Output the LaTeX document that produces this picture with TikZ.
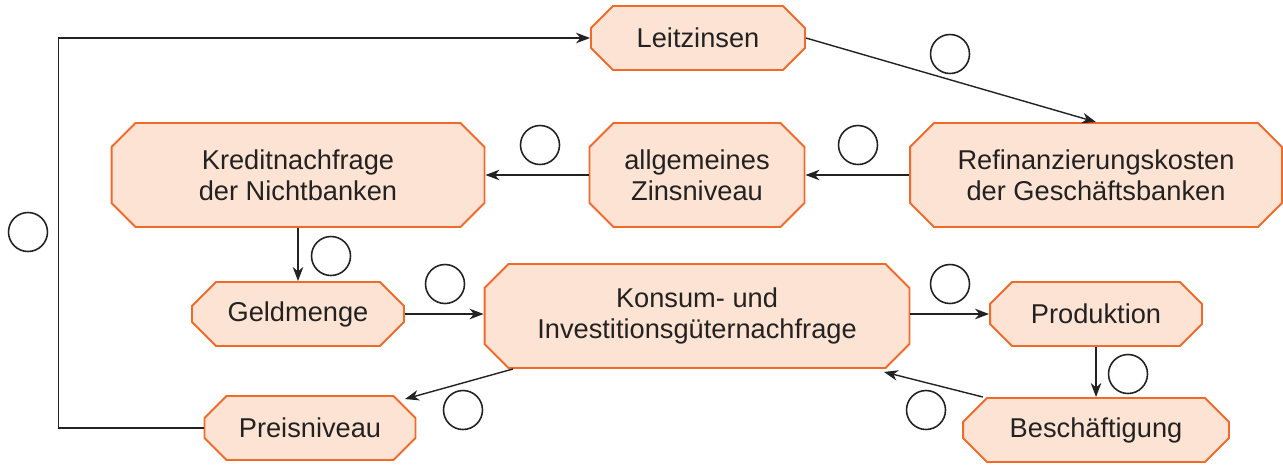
\documentclass[tikz,border=0pt]{standalone}
\usepackage{fontspec}
\setmainfont{Liberation Sans}
\usetikzlibrary{shapes.misc,arrows.meta}

\definecolor{boxfill}{HTML}{FDE3D3}
\definecolor{boxline}{HTML}{F26A2A}
\definecolor{txt}{HTML}{222222}

\tikzset{
  box/.style={chamfered rectangle, chamfered rectangle xsep=0.24cm,
    chamfered rectangle ysep=0.24cm, draw=boxline, fill=boxfill,
    line width=1.1pt, inner sep=0pt, align=center, text=txt,
    font=\fontsize{15.5}{17.6}\selectfont},
  arr/.style={-{Stealth[length=8pt,width=6pt,inset=2.5pt]}, line width=0.8pt, draw=txt},
  blank/.style={circle, draw=txt, line width=0.9pt, minimum size=0.78cm, inner sep=0pt}
}

\begin{document}
\begin{tikzpicture}[x=0.02cm,y=-0.02cm]
      \useasboundingbox (0,0) rectangle (1283,464);
      \node[box, minimum width=4.28cm, minimum height=1.28cm] (leit) at (698,38) {Leitzinsen};
      \node[box, minimum width=7.46cm, minimum height=2.08cm] (kredit) at (298,175) {Kreditnachfrage\\der Nichtbanken};
      \node[box, minimum width=4.30cm, minimum height=2.08cm] (zins) at (697,175) {allgemeines\\Zinsniveau};
      \node[box, minimum width=7.44cm, minimum height=2.08cm] (refi) at (1096,175) {Refinanzierungskosten\\der Geschäftsbanken};
      \node[box, minimum width=4.24cm, minimum height=1.28cm] (geld) at (298,314) {Geldmenge};
      \node[box, minimum width=8.50cm, minimum height=2.08cm] (konsum) at (697,316) {Konsum- und\\Investitionsgüternachfrage};
      \node[box, minimum width=4.24cm, minimum height=1.28cm] (prod) at (1096,314) {Produktion};
      \node[box, minimum width=4.22cm, minimum height=1.28cm] (preis) at (310,428) {Preisniveau};
      \node[box, minimum width=5.32cm, minimum height=1.28cm] (besch) at (1096,430) {Beschäftigung};

      \draw[arr] (preis.west) -- ++(-145,0) |- (leit.west);
      \draw[arr] (leit.east) -- (refi.north);
      \draw[arr] (refi.west) -- (zins.east);
      \draw[arr] (zins.west) -- (kredit.east);
      \draw[arr] (kredit.south) -- (geld.north);
      \draw[arr] (geld.east) -- (konsum.west |- geld.east);
      \draw[arr] (konsum.east |- prod.west) -- (prod.west);
      \draw[arr] (prod.south) -- (besch.north);
      \draw[arr] ([xshift=-2.26cm]besch.north) -- ([xshift=3.74cm,yshift=-0.06cm]konsum.south);
      \draw[arr] ([xshift=-3.68cm]konsum.south) -- ([xshift=1.9cm,yshift=-0.08cm]preis.north);

      \node[blank] (b1) at (950,54) {};
      \node[blank] (b2) at (540,145) {};
      \node[blank] (b3) at (858,145) {};
      \node[blank] (b4) at (331,256) {};
      \node[blank] (b5) at (445,284) {};
      \node[blank] (b6) at (950,284) {};
      \node[blank] (b7) at (1128,374) {};
      \node[blank] (b8) at (463,410) {};
      \node[blank] (b9) at (926,410) {};
      \node[blank] (b10) at (28,232) {};
    \end{tikzpicture}
\end{document}
